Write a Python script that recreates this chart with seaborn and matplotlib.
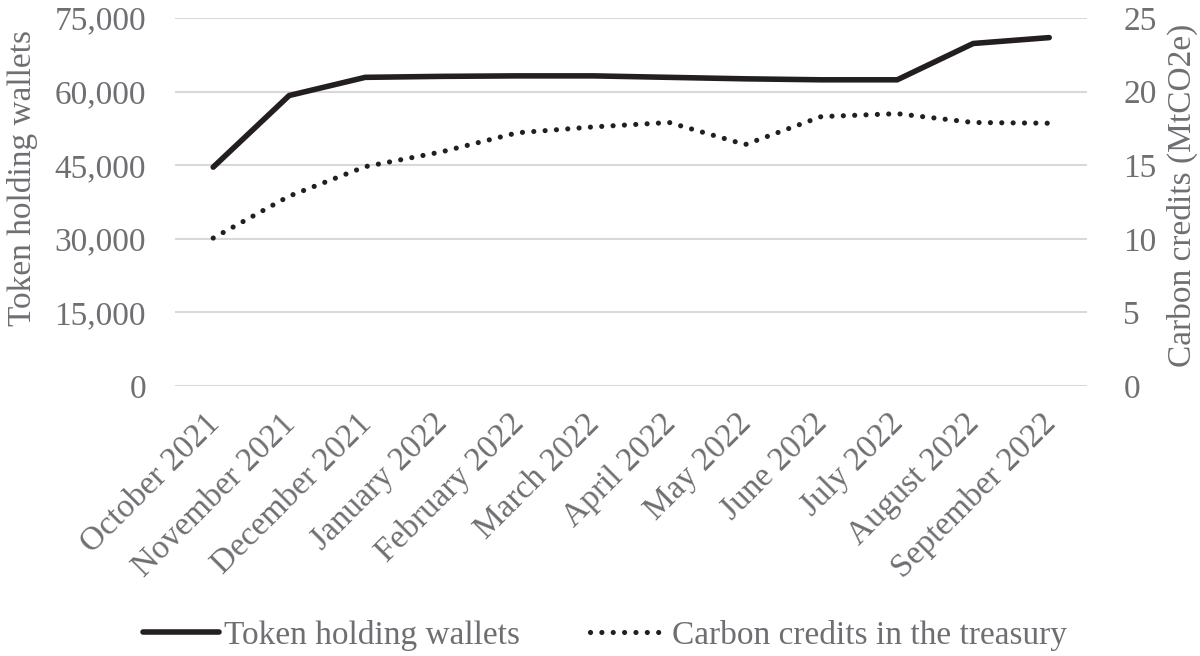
import matplotlib
matplotlib.use("Agg")
import matplotlib.pyplot as plt
import matplotlib.transforms as mtransforms
import seaborn as sns
import pandas as pd
from matplotlib.ticker import FuncFormatter

months = ["October 2021", "November 2021", "December 2021", "January 2022",
          "February 2022", "March 2022", "April 2022", "May 2022",
          "June 2022", "July 2022", "August 2022", "September 2022"]
wallets = [44600, 59200, 62900, 63100, 63200, 63200, 62900, 62600,
           62400, 62400, 69800, 71000]
credits = [10.05, 12.9, 14.9, 15.9, 17.2, 17.6, 17.9, 16.4,
           18.3, 18.5, 17.9, 17.85]

df = pd.DataFrame({"month": months, "x": range(len(months)),
                   "wallets": wallets, "credits": credits})

sns.set_theme(style="white")
plt.rcParams["font.family"] = ["Liberation Serif", "DejaVu Serif"]
GRAY = "#6f6f73"
FS = 24

fig = plt.figure(figsize=(12, 6.56), dpi=100)
ax = fig.add_axes([0.146, 0.4116, 0.76, 0.561])
ax2 = ax.twinx()

sns.lineplot(data=df, x="x", y="wallets", ax=ax, color="#231f20", lw=4.0,
             label="Token holding wallets", legend=False,
             solid_capstyle="round", solid_joinstyle="round")
sns.lineplot(data=df, x="x", y="credits", ax=ax2, color="#231f20", lw=3.7,
             linestyle=(0, (0.01, 2.2)), dash_capstyle="round",
             label="Carbon credits in the treasury", legend=False)

ax.set_xlim(-0.5, len(months) - 0.5)
ax.set_ylim(0, 75000)
ax2.set_ylim(0, 25)
ax.set_yticks(range(0, 75001, 15000))
ax2.set_yticks(range(0, 26, 5))
ax.yaxis.set_major_formatter(FuncFormatter(lambda v, p: f"{int(v):,}"))
ax.set_xticks(range(len(months)))
ax.set_xticklabels(months, rotation=45, ha="right", rotation_mode="anchor")

ax.grid(axis="y", color="#d9d9d9", lw=1.5)
ax.grid(axis="x", visible=False)
ax2.grid(False)
ax.set_axisbelow(True)
for a in (ax, ax2):
    for s in a.spines.values():
        s.set_visible(False)
    a.tick_params(length=0, labelsize=FS, labelcolor=GRAY)
ax.tick_params(axis="y", pad=21)
ax.tick_params(axis="x", pad=16)
ax2.tick_params(axis="y", pad=26)

offset = mtransforms.ScaledTranslation(-9 / 100, 0, fig.dpi_scale_trans)
for lab in ax.get_xticklabels():
    lab.set_transform(lab.get_transform() + offset)

ax.set_xlabel("")
ax.set_ylabel("Token holding wallets", fontsize=FS, color=GRAY)
ax.yaxis.set_label_coords(-0.150, 0.565)
ax2.set_ylabel("Carbon credits (MtCO2e)", fontsize=FS, color=GRAY)
ax2.yaxis.set_label_coords(1.087, 0.519)

h1, l1 = ax.get_legend_handles_labels()
h2, l2 = ax2.get_legend_handles_labels()
leg = fig.legend(h1 + h2, l1 + l2, loc="center", bbox_to_anchor=(0.504, 0.032),
                 ncol=2, frameon=False, fontsize=FS, handlelength=2.3,
                 handletextpad=0.15, columnspacing=2.1)
for t in leg.get_texts():
    t.set_color(GRAY)

fig.savefig("out.png", dpi=100)
